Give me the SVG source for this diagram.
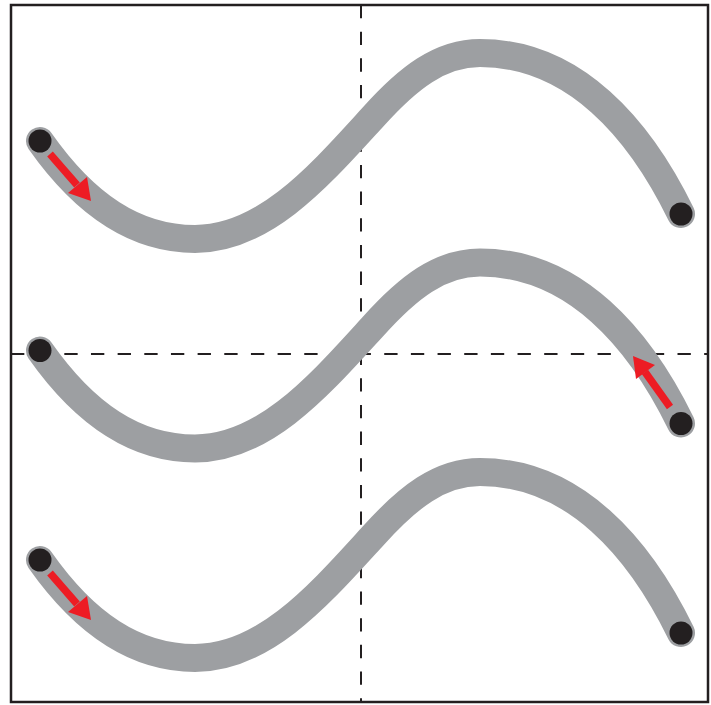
<svg xmlns="http://www.w3.org/2000/svg" width="711" height="705" viewBox="0 0 711 705">
<style>
.frame{fill:#fff;stroke:#231f20;stroke-width:2.5}
.dash{fill:none;stroke:#231f20;stroke-width:2;stroke-dasharray:13.33 13.33}
.curve{fill:none;stroke:#9d9fa2;stroke-width:28;stroke-linecap:round}
.dot{fill:#231f20}
.shaft{fill:none;stroke:#ed1c24;stroke-width:7.5}
.head{fill:#ed1c24}
</style>
<defs>
<path id="wave" d="M40,141 C85,205 135,239 195,239 C265,239 320,175 373,117 C408,78 440,53 480,53 C575,53 640,130 681,214"/>
</defs>
<rect class="frame" x="11" y="5" width="697" height="697"/>
<g id="axes">
<line class="dash" x1="361" y1="5" x2="361" y2="702"/>
<line class="dash" x1="11" y1="354" x2="708" y2="354"/>
</g>
<g id="curve1">
<use href="#wave" class="curve"/>
<circle class="dot" cx="40" cy="141" r="11.5"/>
<circle class="dot" cx="681" cy="214" r="11.5"/>
</g>
<g id="curve2" transform="translate(0,209.5)">
<use href="#wave" class="curve"/>
<circle class="dot" cx="40" cy="141" r="11.5"/>
<circle class="dot" cx="681" cy="214" r="11.5"/>
</g>
<g id="curve3" transform="translate(0,419)">
<use href="#wave" class="curve"/>
<circle class="dot" cx="40" cy="141" r="11.5"/>
<circle class="dot" cx="681" cy="214" r="11.5"/>
</g>
<g id="arrows">
<g id="arrow1">
<line class="shaft" x1="50" y1="154" x2="77" y2="185"/>
<polygon class="head" points="91,201 68,193 87,177"/>
</g>
<g id="arrow2">
<line class="shaft" x1="670" y1="407" x2="645" y2="372"/>
<polygon class="head" points="633,356 655,365 636,379"/>
</g>
<g id="arrow3" transform="translate(0,419)">
<line class="shaft" x1="50" y1="154" x2="77" y2="185"/>
<polygon class="head" points="91,201 68,193 87,177"/>
</g>
</g>
</svg>
